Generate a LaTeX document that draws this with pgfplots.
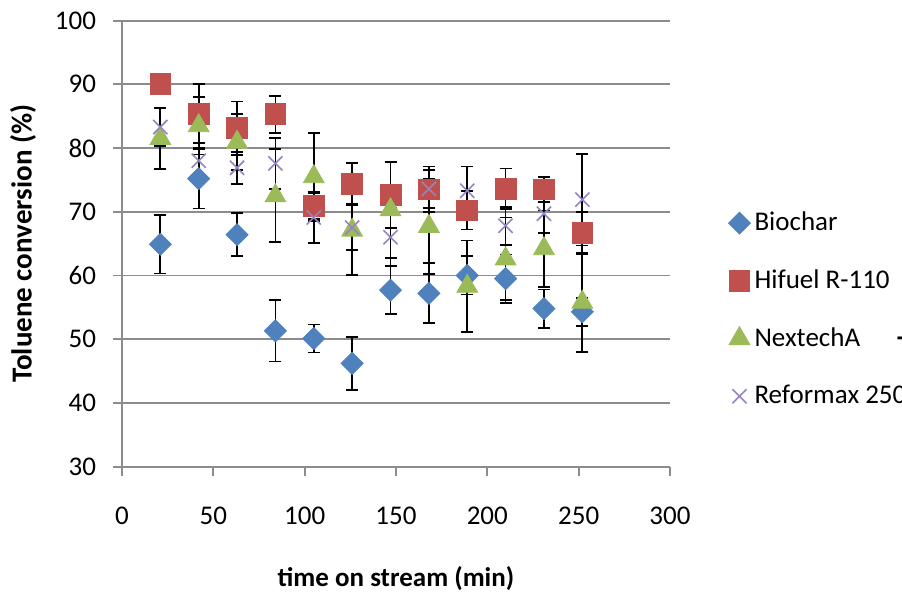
\documentclass[border=0pt]{standalone}
\usepackage{pgfplots}
\pgfplotsset{compat=1.18}
\usepackage{pgfplotstable}
\usepackage{fontspec}
\setmainfont{Carlito}
\definecolor{cBio}{HTML}{4F81BD}
\definecolor{cHif}{HTML}{C0504D}
\definecolor{cNex}{HTML}{9BBB59}
\definecolor{cRef}{HTML}{9684C0}
\definecolor{cGrid}{HTML}{8C8C8C}

\pgfplotstableread{
x y ey
21 64.9 4.6
42 75.2 4.7
63 66.4 3.4
84 51.3 4.8
105 50.1 2.2
126 46.2 4.2
147 57.7 3.8
168 57.2 4.7
189 60.0 3.0
210 59.5 3.8
231 54.8 3.0
252 54.3 2.2
}\biochar
\pgfplotstableread{
x y ey
21 90.1 1.5
42 85.4 4.6
63 83.1 4.2
84 85.3 2.9
105 70.9 2.0
126 74.4 3.2
147 72.7 5.2
168 73.5 3.6
189 70.2 3.0
210 73.6 3.2
231 73.5 2.0
252 66.7 3.3
}\hifuel
\pgfplotstableread{
x y ey
21 81.5 4.8
42 83.5 4.5
63 80.9 4.4
84 72.5 7.3
105 75.5 6.9
126 67.1 7.0
147 70.3 7.5
168 67.7 7.5
189 58.3 7.2
210 62.6 6.5
231 64.2 6.0
252 55.8 7.8
}\nextech
\pgfplotstableread{
x y ey
21 83.3 3.0
42 78.0 2.0
63 76.9 2.5
84 77.6 4.0
105 69.1 4.0
126 67.5 3.5
147 66.0 4.6
168 73.6 3.0
189 73.3 3.8
210 67.8 3.0
231 69.7 3.0
252 71.9 7.2
}\reformax

\begin{document}
\begin{tikzpicture}
\begin{axis}[
  name=ax,
  at={(0,0)}, anchor=south west,
  scale only axis,
  width=274pt, height=223pt,
  xmin=0, xmax=300, ymin=30, ymax=100,
  xtick={0,50,...,300}, ytick={30,40,...,100},
  axis x line*=bottom, axis y line*=left,
  axis line style={cGrid, line width=0.9pt, -},
  ymajorgrids, grid style={cGrid, line width=0.9pt},
  tick align=outside, major tick length=4.5pt,
  tick style={cGrid, line width=0.9pt},
  /pgf/number format/assume math mode=true,
  tick label style={font=\fontsize{13.5}{15}\selectfont},
  xticklabel style={yshift=-12pt},
  yticklabel style={xshift=-5pt},
  xlabel={\textbf{time on stream (min)}},
  ylabel={\textbf{Toluene conversion (\%)}},
  xlabel style={font=\fontsize{13.5}{15}\selectfont, at={(axis description cs:0.5,-0.25)}, anchor=center},
  ylabel style={font=\fontsize{14.5}{16}\selectfont, at={(axis description cs:-0.1807,0.5)}, anchor=center},
  error bars/error bar style={black, line width=0.9pt},
  error bars/error mark options={rotate=90, mark size=3pt, line width=0.9pt, black},
  legend image code/.code={\draw[mark repeat=2,mark phase=2,#1] plot coordinates {(0cm,0cm)(0.2cm,0cm)(0.4cm,0cm)};},
  legend style={at={(axis description cs:1.095,0.352)}, anchor=west, draw=none, fill=none,
    font=\fontsize{13.5}{15}\selectfont, row sep=14pt},
  legend cell align=left,
  clip=false,
]
\addplot[only marks, mark=square*, mark size=3.9pt, mark options={fill=cBio, draw=cBio, rotate=45},
  error bars/.cd, y dir=both, y explicit] table[x=x, y=y, y error=ey] {\biochar};
\addlegendentry{Biochar}
\addplot[only marks, mark=square*, mark size=5.2pt, mark options={fill=cHif, draw=cHif},
  error bars/.cd, y dir=both, y explicit] table[x=x, y=y, y error=ey] {\hifuel};
\addlegendentry{Hifuel R-110}
\addplot[only marks, mark=triangle*, mark size=6pt, mark options={fill=cNex, draw=cNex},
  error bars/.cd, y dir=both, y explicit] table[x=x, y=y, y error=ey] {\nextech};
\addlegendentry{NextechA}
\addplot[only marks, mark=x, mark size=5pt, mark options={draw=cRef, line width=0.8pt},
  error bars/.cd, y dir=both, y explicit] table[x=x, y=y, y error=ey] {\reformax};
\addlegendentry{Reformax 250}
\end{axis}
\node[anchor=base west, inner sep=0pt, font=\fontsize{13.5}{15}\selectfont\bfseries] at ([shift={(387.5pt,56pt)}]ax.south west) {T};
\pgfresetboundingbox
\path[use as bounding box] ([shift={(-61pt,-64.2pt)}]ax.south west) rectangle ([shift={(390pt,233.3pt)}]ax.south west);
\end{tikzpicture}
\end{document}
